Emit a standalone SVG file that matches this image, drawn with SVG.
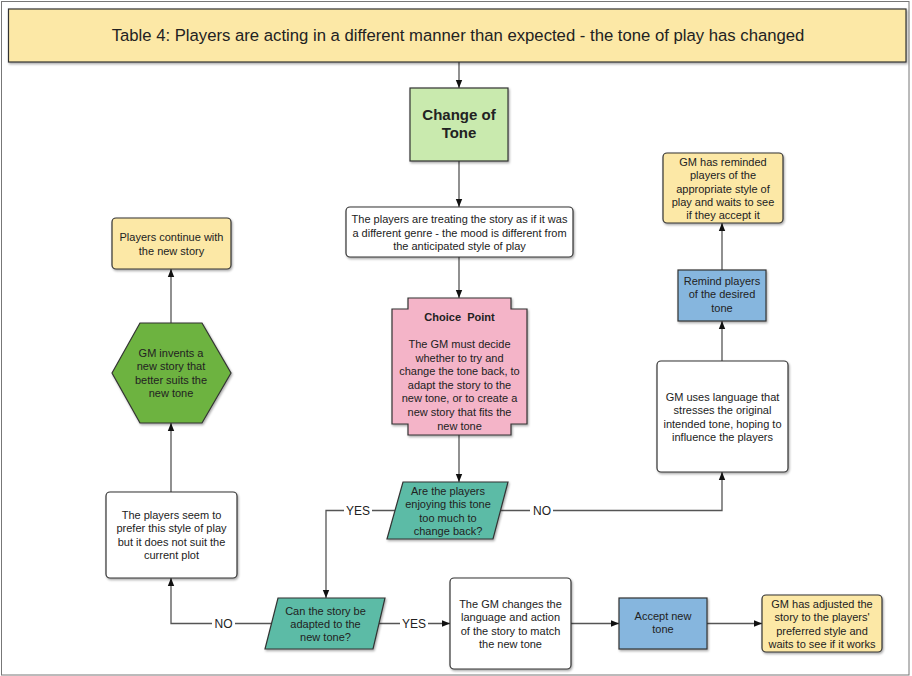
<svg xmlns="http://www.w3.org/2000/svg" width="912" height="676" viewBox="0 0 912 676">
<defs>
<filter id="sh" x="-10%" y="-10%" width="130%" height="130%">
<feDropShadow dx="1" dy="1.5" stdDeviation="1" flood-color="#000" flood-opacity="0.35"/>
</filter>
<marker id="arr" markerUnits="userSpaceOnUse" markerWidth="8" markerHeight="8" viewBox="0 0 8 8" refX="8" refY="4" orient="auto">
<path d="M0,0.8 L8,4 L0,7.2 Z" fill="#111"/>
</marker>
<style>
text{font-family:"Liberation Sans",Arial,sans-serif;fill:#222;text-anchor:middle}
.t{font-size:11px}
.l{font-size:12px}
.b{font-weight:bold}
.n{stroke:#333;stroke-width:1.2;filter:url(#sh)}
.c{fill:none;stroke:#555;stroke-width:1.3}
.a{marker-end:url(#arr)}
.lb{fill:#fff;stroke:none}
</style>
</defs>
<rect x="1.5" y="1.5" width="907.5" height="673.5" fill="#fff" stroke="#777" stroke-width="1"/>

<g id="connectors">
<path class="c a" d="M459,62 V88"/>
<path class="c a" d="M459,161 V207"/>
<path class="c a" d="M459,257 V298"/>
<path class="c a" d="M459,435 V482"/>
<path class="c a" d="M500,510.5 H722 V472"/>
<path class="c a" d="M395,510.5 H326 V598"/>
<path class="c a" d="M722,361 V321"/>
<path class="c a" d="M722,270 V223"/>
<path class="c a" d="M379,623.5 H450"/>
<path class="c a" d="M271,623.5 H171 V578"/>
<path class="c a" d="M171,492 V423"/>
<path class="c a" d="M171,323 V269"/>
<path class="c a" d="M571,623.5 H619"/>
<path class="c a" d="M707,623.5 H762"/>
<rect class="lb" x="530" y="503" width="23" height="15"/>
<text class="l" x="542" y="514.8">NO</text>
<rect class="lb" x="344" y="503" width="28" height="15"/>
<text class="l" x="358" y="514.8">YES</text>
<rect class="lb" x="400" y="616" width="28" height="15"/>
<text class="l" x="414" y="627.8">YES</text>
<rect class="lb" x="212" y="616" width="23" height="15"/>
<text class="l" x="223.5" y="627.8">NO</text>
</g>

<g id="title">
<rect class="n" x="8.5" y="9" width="897.5" height="53" fill="#FCE8A6"/>
<text x="458" y="41" font-size="16.7">Table 4: Players are acting in a different manner than expected - the tone of play has changed</text>
</g>

<g id="change-of-tone">
<rect class="n" x="410" y="88" width="98" height="73" fill="#C9EAAE"/>
<text class="b" x="459" y="119.5" font-size="15">Change of</text>
<text class="b" x="459" y="137.5" font-size="15">Tone</text>
</g>

<g id="players-treating">
<rect class="n" x="346" y="207" width="227" height="50" rx="4" fill="#fff"/>
<text class="t" x="459.5" y="223">The players are treating the story as if it was</text>
<text class="t" x="459.5" y="236.5">a different genre - the mood is different from</text>
<text class="t" x="459.5" y="250">the anticipated style of play</text>
</g>

<g id="choice-point">
<path class="n" fill="#F4B4C8" d="M408,298 H511 V309 H527 V424 H511 V435 H408 V424 H392 V309 H408 Z"/>
<text class="t b" x="459.5" y="321" xml:space="preserve">Choice  Point</text>
<text class="t" x="459.5" y="348">The GM must decide</text>
<text class="t" x="459.5" y="361.6">whether to try and</text>
<text class="t" x="459.5" y="375.2">change the tone back, to</text>
<text class="t" x="459.5" y="388.8">adapt the story to the</text>
<text class="t" x="459.5" y="402.4">new tone, or to create a</text>
<text class="t" x="459.5" y="416">new story that fits the</text>
<text class="t" x="459.5" y="429.6">new tone</text>
</g>

<g id="decision-enjoying">
<polygon class="n" fill="#5CBBA6" points="403,482 508,482 493,539 387,539"/>
<text class="t" x="448" y="495">Are the players</text>
<text class="t" x="448" y="508.4">enjoying this tone</text>
<text class="t" x="448" y="521.8">too much to</text>
<text class="t" x="448" y="535.2">change back?</text>
</g>

<g id="gm-uses-language">
<rect class="n" x="657" y="361" width="131" height="111" rx="4" fill="#fff"/>
<text class="t" x="722.5" y="401">GM uses language that</text>
<text class="t" x="722.5" y="414.4">stresses the original</text>
<text class="t" x="722.5" y="427.8">intended tone, hoping to</text>
<text class="t" x="722.5" y="441.2">influence the players</text>
</g>

<g id="remind-players">
<rect class="n" x="678" y="270" width="88" height="51" fill="#86B6DE"/>
<text class="t" x="722" y="285">Remind players</text>
<text class="t" x="722" y="298.4">of the desired</text>
<text class="t" x="722" y="311.8">tone</text>
</g>

<g id="gm-reminded">
<rect class="n" x="663" y="153" width="120" height="70" rx="4" fill="#FCE8A6"/>
<text class="t" x="723" y="166">GM has reminded</text>
<text class="t" x="723" y="179.3">players of the</text>
<text class="t" x="723" y="192.6">appropriate style of</text>
<text class="t" x="723" y="205.9">play and waits to see</text>
<text class="t" x="723" y="219.2">if they accept it</text>
</g>

<g id="decision-adapt">
<polygon class="n" fill="#5CBBA6" points="278,598 385,598 373,649 265,649"/>
<text class="t" x="325.5" y="615">Can the story be</text>
<text class="t" x="325.5" y="628.2">adapted to the</text>
<text class="t" x="325.5" y="641.4">new tone?</text>
</g>

<g id="gm-changes">
<rect class="n" x="450" y="578" width="121" height="91" rx="4" fill="#fff"/>
<text class="t" x="510.5" y="608">The GM changes the</text>
<text class="t" x="510.5" y="621.4">language and action</text>
<text class="t" x="510.5" y="634.8">of the story to match</text>
<text class="t" x="510.5" y="648.2">the new tone</text>
</g>

<g id="accept-new-tone">
<rect class="n" x="619" y="598" width="88" height="51" fill="#86B6DE"/>
<text class="t" x="663" y="620">Accept new</text>
<text class="t" x="663" y="633.4">tone</text>
</g>

<g id="gm-adjusted">
<rect class="n" x="762" y="595" width="120" height="57" rx="4" fill="#FCE8A6"/>
<text class="t" x="822" y="608">GM has adjusted the</text>
<text class="t" x="822" y="621.4">story to the players'</text>
<text class="t" x="822" y="634.8">preferred style and</text>
<text class="t" x="822" y="648.2">waits to see if it works</text>
</g>

<g id="players-seem">
<rect class="n" x="106" y="492" width="131" height="86" rx="4" fill="#fff"/>
<text class="t" x="171.5" y="519">The players seem to</text>
<text class="t" x="171.5" y="532.4">prefer this style of play</text>
<text class="t" x="171.5" y="545.8">but it does not suit the</text>
<text class="t" x="171.5" y="559.2">current plot</text>
</g>

<g id="gm-invents">
<polygon class="n" fill="#6DB33F" points="112,373 140,323 202,323 231,373 202,423 140,423"/>
<text class="t" x="171" y="357">GM invents a</text>
<text class="t" x="171" y="370.4">new story that</text>
<text class="t" x="171" y="383.8">better suits the</text>
<text class="t" x="171" y="397.2">new tone</text>
</g>

<g id="players-continue">
<rect class="n" x="112" y="218" width="119" height="51" rx="4" fill="#FCE8A6"/>
<text class="t" x="171.5" y="241">Players continue with</text>
<text class="t" x="171.5" y="254.6">the new story</text>
</g>
</svg>
